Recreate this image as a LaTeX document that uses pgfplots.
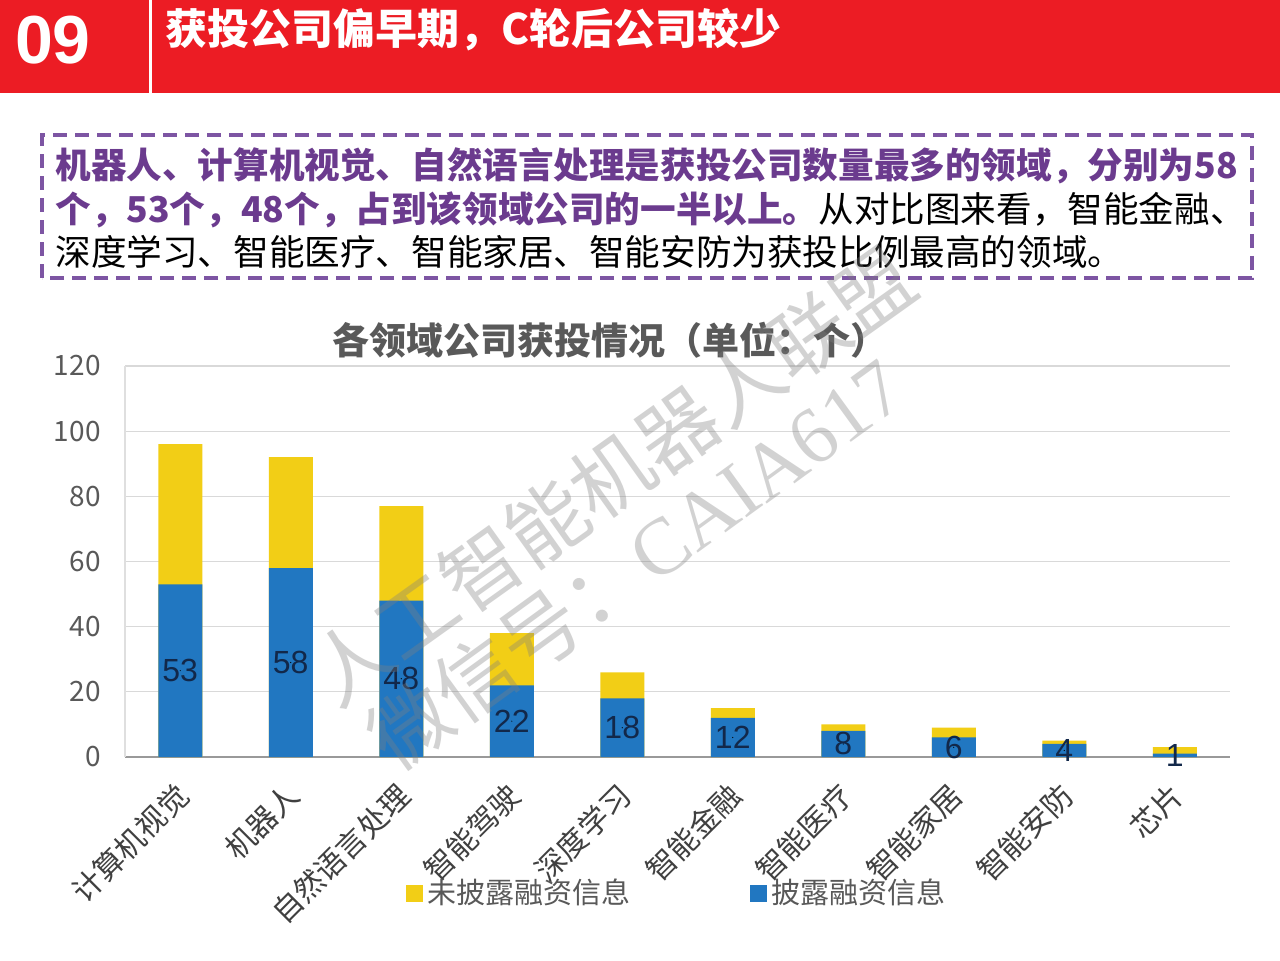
\documentclass[border=0pt]{standalone}
\usepackage{fontspec}
\setmainfont{Noto Sans CJK SC}
\newfontfamily\latinfont{Liberation Sans}
\newfontfamily\serifwm{Liberation Serif}
\usepackage{pgfplots}
\pgfplotsset{compat=1.18}
\usepackage{pgfplotstable}
\definecolor{hdrred}{HTML}{EC1C24}
\definecolor{barblue}{HTML}{2177C1}
\definecolor{baryellow}{HTML}{F2CE16}
\definecolor{purp}{HTML}{6B3B8E}
\definecolor{boxpurp}{HTML}{7D55A3}
\definecolor{txtgray}{HTML}{595959}
\definecolor{lblgray}{HTML}{404040}
\definecolor{navy}{HTML}{12284A}

\pgfplotstableread{
x d t
0 53 96
1 58 92
2 48 77
3 22 38
4 18 26
5 12 15
6 8 10
7 6 9
8 4 5
9 1 3
}\data

\begin{document}
\begin{tikzpicture}[x=0.5pt,y=0.5pt]
\path[fill=white] (0,0) rectangle (1280,960);
% header
\fill[hdrred] (0,867) rectangle (1280,960);
\fill[white] (149,867) rectangle (152,960);
\node[text=white, font=\latinfont\bfseries\fontsize{34pt}{34pt}\selectfont] at (53,920) {09};
\node[anchor=west, inner sep=0pt, text=white, font=\bfseries\fontsize{21pt}{21pt}\selectfont] at (165,930) {获投公司偏早期，C轮后公司较少};
% box
\draw[boxpurp, line width=2pt, dash pattern=on 7pt off 4pt] (42,682) rectangle (1252,825);
\node[anchor=west, inner sep=0pt, font=\fontsize{17.8pt}{17.8pt}\selectfont] at (55,794) {{\bfseries\color{purp}机器人、计算机视觉、自然语言处理是获投公司数量最多的领域，分别为58}};
\node[anchor=west, inner sep=0pt, font=\fontsize{17.8pt}{17.8pt}\selectfont] at (55,750) {{\bfseries\color{purp}个，53个，48个，占到该领域公司的一半以上。}从对比图来看，智能金融、};
\node[anchor=west, inner sep=0pt, font=\fontsize{17.8pt}{17.8pt}\selectfont] at (55,708) {深度学习、智能医疗、智能家居、智能安防为获投比例最高的领域。};
% chart title
\node[text=txtgray, font=\bfseries\fontsize{18.5pt}{18.5pt}\selectfont] at (610,620) {各领域公司获投情况（单位：个）};

\begin{axis}[
  at={(62.5pt,101.5pt)}, anchor=south west,
  scale only axis, width=552.5pt, height=195.5pt,
  xmin=-0.5, xmax=9.5, ymin=0, ymax=120,
  xtick={0,...,9},
  xticklabels={计算机视觉,机器人,自然语言处理,智能驾驶,深度学习,智能金融,智能医疗,智能家居,智能安防,芯片},
  ytick={0,20,...,120},
  major tick length=0pt,
  axis x line*=bottom, axis y line*=left,
  axis line style={-},
  x axis line style={draw=gray!80, line width=1pt},
  y axis line style={draw=gray!25, line width=0.6pt},
  ymajorgrids, grid style={draw=gray!30, line width=0.6pt},
  /pgf/number format/assume math mode=true,
  yticklabel style={font=\fontsize{14pt}{14pt}\selectfont, text=txtgray, inner sep=0pt, xshift=-12pt},
  xticklabel style={rotate=45, anchor=north east, inner sep=1pt, font=\fontsize{15pt}{15pt}\selectfont, text=lblgray, xshift=-9.5pt, yshift=-4.7pt},
  legend style={at={(0.5,-0.348)}, anchor=center, legend columns=2, draw=none, fill=none,
     font=\fontsize{14.5pt}{14.5pt}\selectfont, text=txtgray,
     /tikz/every even column/.append style={column sep=58pt}},
  legend cell align=left,
]
\addplot[ybar, bar width=22pt, bar shift=0pt, fill=baryellow, draw=none,
  legend image code/.code={\fill[baryellow] (0pt,-4.25pt) rectangle (8.5pt,4.25pt);}]
  table[x=x, y=t] {\data};
\addlegendentry{未披露融资信息}
\addplot[ybar, bar width=22pt, bar shift=0pt, fill=barblue, draw=none,
  legend image code/.code={\fill[barblue] (0pt,-4.25pt) rectangle (8.5pt,4.25pt);}]
  table[x=x, y=d] {\data};
\addlegendentry{披露融资信息}
\addplot[forget plot, only marks, mark=*, mark size=0.01pt, mark options={draw=none, fill=none},
  nodes near coords, point meta=explicit,
  every node near coord/.style={anchor=center, text=navy, font=\latinfont\fontsize{16pt}{16pt}\selectfont}]
  table[x=x, y expr=\thisrow{d}/2, meta=d] {\data};
\end{axis}

% watermark
\node[rotate=35.5, text=gray, opacity=0.35, font=\fontsize{40pt}{40pt}\selectfont] at (612,484) {人工智能机器人联盟};
\node[rotate=36, text=gray, opacity=0.35, font=\fontsize{40pt}{40pt}\selectfont] at (635,398) {微信号：{\serifwm CAIA617}};
\end{tikzpicture}
\end{document}
